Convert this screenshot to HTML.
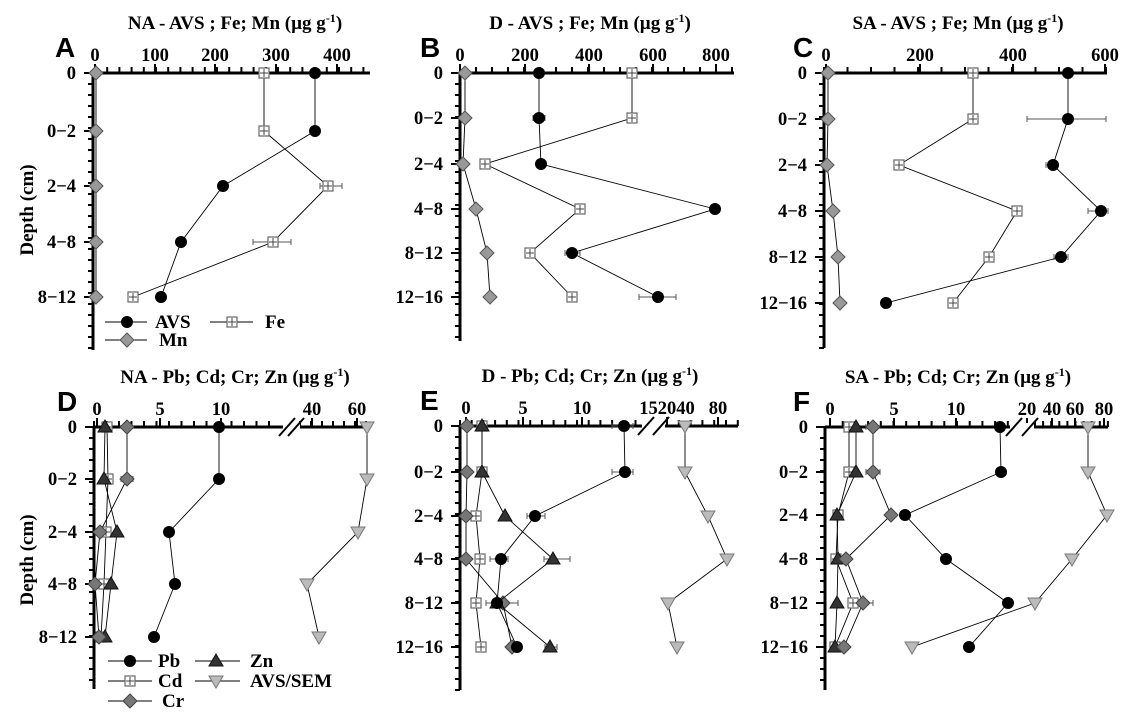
<!DOCTYPE html>
<html><head><meta charset="utf-8"><style>
html,body{margin:0;padding:0;background:#fff;width:1139px;height:721px;overflow:hidden}
svg text{font-family:"Liberation Serif",serif;font-weight:bold}
</style></head><body>
<svg id="s" width="1139" height="721" xmlns="http://www.w3.org/2000/svg"></svg>
<script>
var S=document.getElementById('s'),h='';
function L(x1,y1,x2,y2,w,c){h+='<line x1="'+x1+'" y1="'+y1+'" x2="'+x2+'" y2="'+y2+'" stroke="'+(c||'#000')+'" stroke-width="'+(w||1)+'"/>';}
function T(x,y,t,sz,anc,extra){h+='<text x="'+x+'" y="'+y+'" font-size="'+sz+'" text-anchor="'+(anc||'middle')+'" '+(extra||'')+'>'+t+'</text>';}
function M(type,x,y){
 if(type=='c')h+='<circle cx="'+x+'" cy="'+y+'" r="6" fill="#000"/>';
 else if(type=='s'){h+='<rect x="'+(x-5)+'" y="'+(y-5)+'" width="10" height="10" fill="#fff" stroke="#666" stroke-width="1.2"/>';L(x-4,y,x+4,y,1,'#444');L(x,y-4,x,y+4,1,'#444');}
 else if(type=='d')h+='<polygon points="'+x+','+(y-7)+' '+(x+7)+','+y+' '+x+','+(y+7)+' '+(x-7)+','+y+'" fill="#999" stroke="#555" stroke-width="1"/>';
 else if(type=='D')h+='<polygon points="'+x+','+(y-7)+' '+(x+7)+','+y+' '+x+','+(y+7)+' '+(x-7)+','+y+'" fill="#777" stroke="#444" stroke-width="1"/>';
 else if(type=='u')h+='<polygon points="'+x+','+(y-7)+' '+(x+7)+','+(y+5)+' '+(x-7)+','+(y+5)+'" fill="#333" stroke="#111"/>';
 else if(type=='v')h+='<polygon points="'+x+','+(y+7)+' '+(x+7)+','+(y-5)+' '+(x-7)+','+(y-5)+'" fill="#bbb" stroke="#777"/>';
}
function ser(type,xs,ys){var p=xs.map(function(x,i){return x+','+ys[i]}).join(' ');
 h+='<polyline points="'+p+'" fill="none" stroke="#000" stroke-width="0.9"/>';
 xs.forEach(function(x,i){M(type,x,ys[i]);});}
function eb(x1,x2,y){L(x1,y,x2,y,1,'#555');L(x1,y-3,x1,y+3,1,'#555');L(x2,y-3,x2,y+3,1,'#555');}
function panel(o){
 var ax=o.ax,ay=o.ay;
 L(ax,ay,ax,o.bot,3);L(ax,ay,o.right,ay,3);
 for(var y=ay;y<=o.bot;y+=o.mt)L(ax-5,y,ax,y,2);
 o.ys.forEach(function(y,i){L(ax-9,y,ax,y,2);T(ax-17,y+6,o.labs[i],18.5,'end');});
 o.xt.forEach(function(x){L(x,ay-6,x,ay,2);});
 o.xl.forEach(function(a){L(a[0],ay-9,a[0],ay,2);T(a[0],ay-12,a[1],18.5);});
 if(o.brk){h+='<rect x="'+o.brk[0]+'" y="'+(ay-4)+'" width="'+(o.brk[1]-o.brk[0])+'" height="8" fill="#fff"/>';
  L(o.brk[0]-4,ay+9,o.brk[0]+12,ay-9,2);L(o.brk[1]-12,ay+9,o.brk[1]+4,ay-9,2);}
 T(o.tx,o.ay-44,o.title,19);
 h+='<text x="'+o.lx+'" y="'+(ay-16)+'" font-size="28" style="font-family:\'Liberation Sans\',sans-serif;font-weight:bold">'+o.letter+'</text>';
}
function rng(a,b,st){var r=[];for(var x=a;x<=b+0.1;x+=st)r.push(x);return r;}
var sup='(µg g<tspan dy="-7" font-size="12">-1</tspan><tspan dy="7">)</tspan>';
// A
var yA=[73,131,186,242,297];
panel({ax:93,ay:73,bot:350,right:370,mt:11,ys:yA,labs:['0','0−2','2−4','4−8','8−12'],xt:rng(95,370,12.2),xl:[[95,'0'],[155,'100'],[215,'200'],[276,'300'],[337,'400']],title:'NA - AVS ; Fe; Mn '+sup,tx:235,lx:55,letter:'A'});
eb(320,342,186);eb(253,291,242);
ser('d',[96,96,96,96,96],yA);
ser('s',[264,264,328,273,133],yA);
ser('c',[315,315,223,181,161],yA);
L(105,322,147,322);M('c',127,322);T(155,328,'AVS',19,'start');
L(210,322,253,322);M('s',232,322);T(265,328,'Fe',19,'start');
L(105,340,147,340);M('d',127,340);T(159,346,'Mn',19,'start');
// B
var yB=[73,118,164,209,253,297];
panel({ax:460,ay:73,bot:341,right:734,mt:11,ys:yB,labs:['0','0−2','2−4','4−8','8−12','12−16'],xt:rng(460,734,16),xl:[[460,'0'],[525,'200'],[589,'400'],[653,'600'],[716,'800']],title:'D - AVS ; Fe; Mn '+sup,tx:590,lx:420,letter:'B'});
eb(639,676,297);eb(565,580,253);eb(533,545,118);
ser('d',[465,465,463,476,487,490],yB);
ser('s',[632,632,485,580,530,572],yB);
ser('c',[539,539,541,715,572,658],yB);
// C
var yC=[73,119,165,211,257,303];
panel({ax:824,ay:73,bot:348,right:1107,mt:11,ys:yC,labs:['0','0−2','2−4','4−8','8−12','12−16'],xt:rng(824,1107,23.5),xl:[[826,'0'],[920,'200'],[1013,'400'],[1105,'600']],title:'SA - AVS ; Fe; Mn '+sup,tx:958,lx:793,letter:'C'});
eb(1027,1106,119);eb(1046,1058,165);eb(1088,1108,211);eb(1054,1068,257);
ser('d',[828,828,827,833,838,840],yC);
ser('s',[973,973,899,1017,989,953],yC);
ser('c',[1068,1068,1053,1101,1061,886],yC);
// D
var yD=[427,479,532,584,637];
panel({ax:94,ay:427,bot:689,right:371,mt:11,ys:yD,labs:['0','0−2','2−4','4−8','8−12'],xt:rng(94,270,12.5).concat(rng(300,371,11)),xl:[[97,'0'],[160,'5'],[221,'10'],[312,'40'],[357,'60']],brk:[283,300],title:'NA - Pb; Cd; Cr; Zn '+sup,tx:235,lx:57,letter:'D'});
eb(121,133,479);
ser('s',[107,108,106,104,101],yD);
ser('u',[105,104,117,111,105],yD);
ser('D',[127,127,100,95,99],yD);
ser('c',[219,219,169,175,154],yD);
ser('v',[367,367,358,307,319],yD);
L(108,661,152,661);M('c',130,661);T(158,667,'Pb',19,'start');
L(195,661,240,661);M('u',216,661);T(250,667,'Zn',19,'start');
L(108,681,152,681);M('s',130,681);T(158,687,'Cd',19,'start');
L(195,681,240,681);M('v',216,681);T(250,687,'AVS/SEM',19,'start');
L(108,701,152,701);M('D',130,701);T(162,707,'Cr',19,'start');
// E
var yE=[426,472,516,559,603,647];
panel({ax:460,ay:426,bot:690,right:738,mt:11,ys:yE,labs:['0','0−2','2−4','4−8','8−12','12−16'],xt:rng(460,640,11.7).concat(rng(667,738,11.8)),xl:[[466,'0'],[523,'5'],[582,'10'],[667,'152040'],[718,'80']],brk:[642,665],title:'D - Pb; Cd; Cr; Zn '+sup,tx:590,lx:420,letter:'E'});
eb(612,633,426);eb(612,633,472);eb(527,545,516);eb(490,508,559);eb(486,518,603);eb(544,570,559);eb(545,557,647);
ser('s',[482,482,476,480,476,481],yE);
ser('D',[467,467,466,466,503,512],yE);
ser('u',[482,482,505,553,497,550],yE);
ser('c',[624,625,535,501,497,517],yE);
ser('v',[685,685,708,727,668,677],yE);
// F
var yF=[427,472,515,559,603,647];
panel({ax:825,ay:427,bot:690,right:1108,mt:11,ys:yF,labs:['0','0−2','2−4','4−8','8−12','12−16'],xt:rng(830,1008,12.7).concat(rng(1035,1108,8.1)),xl:[[830,'0'],[894,'5'],[956,'10'],[1027,'20'],[1052,'40'],[1075,'60'],[1104,'80']],brk:[1010,1034],title:'SA - Pb; Cd; Cr; Zn '+sup,tx:958,lx:793,letter:'F'});
eb(866,880,472);eb(866,874,427);eb(853,873,603);eb(996,1006,472);
ser('s',[849,849,838,836,853,835],yF);
ser('u',[856,856,837,838,837,835],yF);
ser('D',[873,873,891,846,863,844],yF);
ser('c',[1000,1001,905,946,1008,969],yF);
ser('v',[1088,1088,1107,1072,1035,912],yF);
T(27,210,'Depth (cm)',19,'middle','transform="rotate(-90 27 210)" dy="6"');
T(27,560,'Depth (cm)',19,'middle','transform="rotate(-90 27 560)" dy="6"');
S.innerHTML=h;
</script>
</body></html>
